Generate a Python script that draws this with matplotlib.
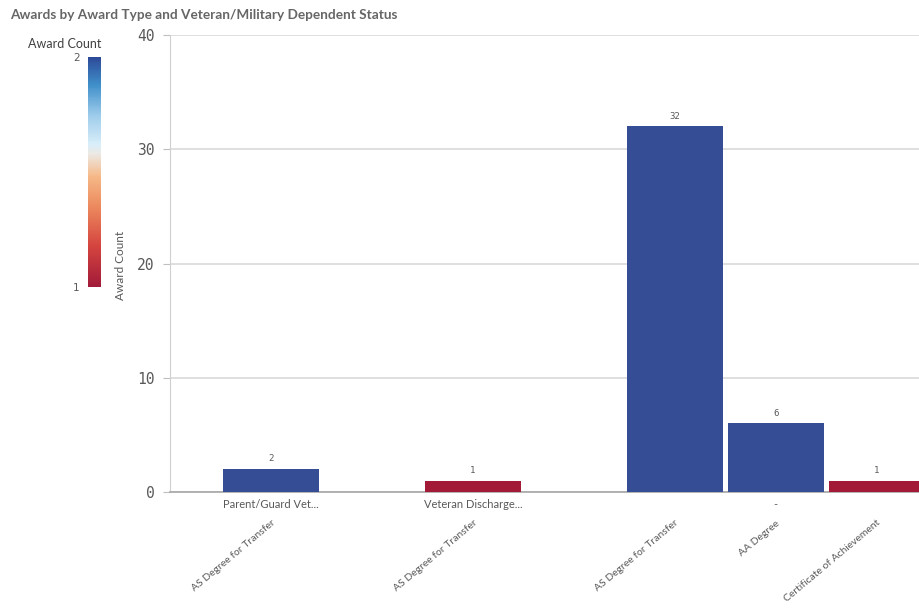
import matplotlib
matplotlib.use('Agg')

import matplotlib.pyplot as plt
import numpy as np
from matplotlib.colors import LinearSegmentedColormap, Normalize
from matplotlib.colorbar import ColorbarBase

# --- data ---
groups      = ['Parent/Guard Vet...', 'Veteran Discharge...', '-']
award_types = ['AS Degree for Transfer', 'AS Degree for Transfer',
               'AS Degree for Transfer', 'AA Degree', 'Certificate of Achievement']
bar_group   = [0, 1, 2, 2, 2]
counts      = [2, 1, 32, 6, 1]

# --- bar positions: one empty slot between groups
pos = []
p = 0
for i, g in enumerate(bar_group):
    if i > 0:
        p += 2 if g != bar_group[i-1] else 1
    pos.append(p)
pos = np.array(pos, dtype=float)

# --- colour scale (red -> light -> blue)
cmap = LinearSegmentedColormap.from_list('qlik_div', [
    (0.00, '#a11a39'), (0.18, '#d5453f'), (0.35, '#ec8a5e'), (0.48, '#f6b887'),
    (0.58, '#ece9e4'), (0.62, '#d9eef9'), (0.75, '#9ccbeb'), (0.88, '#3f8fca'),
    (1.00, '#2d4a98')])
norm = Normalize(vmin=1, vmax=2, clip=True)
bar_colors = ['#344d94' if c >= 2 else '#a31a37' for c in counts]

grey = '#595959'
fig = plt.figure(figsize=(9.19, 6.08), dpi=100)

fig.text(10/919, 1 - 15/608, 'Awards by Award Type and Veteran/Military Dependent Status',
         fontsize=9.8, fontweight='bold', color='#666666', family='Lato', va='center', ha='left')

# main axes
ax = fig.add_axes([170/919, 116/608, 1 - 170/919, 457/608])
ax.bar(pos, counts, width=0.95, color=bar_colors, zorder=3)
for x, c in zip(pos, counts):
    ax.text(x, c + 0.5, str(c), ha='center', va='bottom', fontsize=6.5,
            family='DejaVu Sans Mono', color=grey)

ax.set_xlim(-1, 6.42)
ax.set_ylim(0, 40)
ax.set_yticks([0, 10, 20, 30, 40])
ax.yaxis.grid(True, color='#d9d9d9', linewidth=1.2, zorder=0)
ax.tick_params(axis='y', length=5, color='#bfbfbf', pad=6, labelsize=10.5, labelcolor=grey)
for lab in ax.get_yticklabels():
    lab.set_family('DejaVu Sans Mono')
ax.set_xticks([])
for s in ['top', 'right']:
    ax.spines[s].set_visible(False)
ax.spines['left'].set_color('#d0d0d0')
ax.spines['bottom'].set_color('#a6a6a6')
ax.spines['bottom'].set_linewidth(1.2)

# group labels
trans = ax.get_xaxis_transform()
for gi, g in enumerate(groups):
    gx = pos[[i for i, b in enumerate(bar_group) if b == gi]].mean()
    ax.text(gx, -0.016, g, transform=trans, ha='center', va='top', fontsize=8,
            color=grey, family='Lato')

# rotated award type labels
for x, t in zip(pos, award_types):
    ax.text(x, -0.058, t, transform=trans, ha='right', va='top', rotation=40,
            rotation_mode='anchor', fontsize=7.5, color=grey, family='Lato')

fig.text(120/919, 1 - 265/608, 'Award Count', rotation=90, ha='center', va='center',
         fontsize=8.5, color=grey, family='Lato')

# colour legend
cax = fig.add_axes([88/919, 1 - 287/608, 13/919, 230/608])
cb = ColorbarBase(cax, cmap=cmap, norm=norm, orientation='vertical')
cb.outline.set_visible(False)
cb.set_ticks([1, 2])
cax.yaxis.set_ticks_position('left')
cax.tick_params(length=0, pad=6, labelsize=7.5, labelcolor=grey)
fig.text(101/919, 1 - 44/608, 'Award Count', ha='right', va='center', fontsize=9,
         color='#404040', family='Lato')

plt.savefig('out.png', dpi=100)
